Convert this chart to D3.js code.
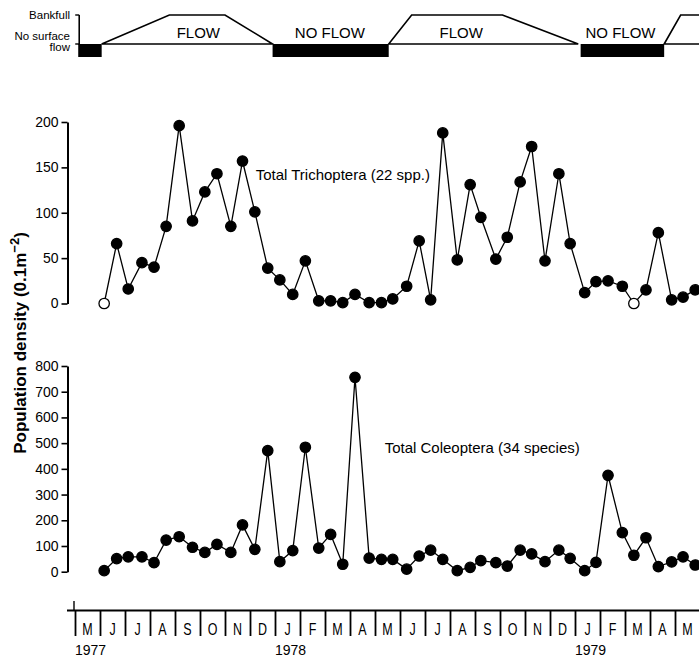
<!DOCTYPE html>
<html>
<head>
<meta charset="utf-8">
<script src="https://cdn.jsdelivr.net/npm/d3@7"></script>
<style>
  body { margin: 0; background: #fff; }
  text { font-family: "Liberation Sans", Arial, Helvetica, sans-serif; fill: #000; }
</style>
</head>
<body>
<script>
// sampling dates, same for both taxa
var sampleDates = [
  "1977-06-06","1977-06-21","1977-07-05","1977-07-22","1977-08-06","1977-08-21",
  "1977-09-06","1977-09-22","1977-10-07","1977-10-22","1977-11-08","1977-11-22",
  "1977-12-07","1977-12-23","1978-01-07","1978-01-23","1978-02-07","1978-02-22",
  "1978-03-08","1978-03-23","1978-04-07","1978-04-24","1978-05-09","1978-05-23",
  "1978-06-09","1978-06-24","1978-07-08","1978-07-23","1978-08-10","1978-08-26",
  "1978-09-08","1978-09-26","1978-10-10","1978-10-26","1978-11-09","1978-11-25",
  "1978-12-12","1978-12-26","1979-01-13","1979-01-27","1979-02-10","1979-02-26",
  "1979-03-12","1979-03-27","1979-04-11","1979-04-27","1979-05-11","1979-05-26"
]

var trichoptera = [
  0, 66, 16, 45, 40, 85, 196, 91, 123, 143, 85, 157,
  101, 39, 26, 10, 47, 3, 3, 1, 10, 1, 1, 5,
  19, 69, 4, 188, 48, 131, 95, 49, 73, 134, 173, 47,
  143, 66, 12, 24, 25, 19, 0, 15, 78, 4, 7, 15
]
// samples drawn as open circles
var trichOpen = [0, 42]

var coleoptera = [
  4, 51, 58, 58, 35, 123, 136, 95, 75, 106, 75, 182,
  87, 471, 39, 82, 484, 92, 145, 29, 756, 53, 48, 48,
  10, 61, 84, 48, 4, 17, 43, 35, 22, 84, 69, 39,
  84, 52, 4, 36, 375, 152, 64, 132, 20, 38, 58, 26
]

var trichTicks = [0, 50, 100, 150, 200]
var coleoTicks = [0, 100, 200, 300, 400, 500, 600, 700, 800]

var monthLabels = ["M","J","J","A","S","O","N","D","J","F","M","A",
                   "M","J","J","A","S","O","N","D","J","F","M","A","M"]
var yearLabels = ["1977", "1978", "1979"]
var yearDates = ["1977-05-01", "1978-01-01", "1979-01-01"]

// flow regime: start, bankfull reached, bankfull ends, flow stops
var flowPeriods = [
  ["1977-06-03", "1977-08-25", "1977-11-01", "1977-12-29"],
  ["1978-05-18", "1978-06-15", "1978-10-04", "1979-01-05"],
  ["1979-04-18", "1979-05-08", "1979-07-01", "1979-07-01"]
]
var noFlowPeriods = [
  ["1977-05-05", "1977-06-03"],
  ["1977-12-29", "1978-05-18"],
  ["1979-01-08", "1979-04-18"]
]
var regimeLabels = ["FLOW", "NO FLOW", "FLOW", "NO FLOW"]
var regimeDates = ["1977-09-29", "1978-03-07", "1978-08-15", "1979-02-24"]

// position in months since 1 May 1977 (every month gets the same width)
function monthPos(s) {
  var p = s.split("-").map(Number)
  var dim = new Date(p[0], p[1], 0).getDate()
  return (p[0] - 1977) * 12 + (p[1] - 5) + (p[2] - 1) / dim
}

var svg = d3.select("body").append("svg")
  .attr("width", 699)
  .attr("height", 658)

var x = d3.scaleLinear().domain([0, 25]).range([75, 700])
var yTop = d3.scaleLinear().domain([0, 200]).range([303.5, 122])
var yBot = d3.scaleLinear().domain([0, 800]).range([571.7, 366])
var yFlow = d3.scaleLinear().domain([0, 1]).range([44, 15])

// ---------- FLOW DIAGRAM ----------
var gFlow = svg.append("g")

var flowAxisX = x(monthPos(noFlowPeriods[0][0])) + 1
gFlow.append("line")
  .attr("x1", flowAxisX).attr("x2", flowAxisX)
  .attr("y1", yFlow(1)).attr("y2", yFlow(0) + 1)
  .attr("stroke", "#000").attr("stroke-width", 1.6)
gFlow.selectAll(".ftick").data([0, 1]).enter().append("line")
  .attr("x1", flowAxisX - 4).attr("x2", flowAxisX)
  .attr("y1", d => yFlow(d)).attr("y2", d => yFlow(d))
  .attr("stroke", "#000").attr("stroke-width", 1.4)

gFlow.append("text").attr("x", 70).attr("y", 19)
  .attr("text-anchor", "end").style("font-size", "11.5px").text("Bankfull")
gFlow.append("text").attr("x", 70).attr("y", 39.5)
  .attr("text-anchor", "end").style("font-size", "11.5px").text("No surface")
gFlow.append("text").attr("x", 70).attr("y", 50.5)
  .attr("text-anchor", "end").style("font-size", "11.5px").text("flow")

gFlow.selectAll("rect").data(noFlowPeriods).enter().append("rect")
  .attr("x", d => x(monthPos(d[0])))
  .attr("width", d => x(monthPos(d[1])) - x(monthPos(d[0])))
  .attr("y", yFlow(0))
  .attr("height", 13)
  .attr("fill", "#000")

gFlow.selectAll(".trap").data(flowPeriods).enter().append("path")
  .attr("d", d => d3.line()([
    [x(monthPos(d[0])), yFlow(0)],
    [x(monthPos(d[1])), yFlow(1)],
    [x(monthPos(d[2])), yFlow(1)],
    [x(monthPos(d[3])), yFlow(0)]
  ]) + "Z")
  .attr("fill", "none")
  .attr("stroke", "#000")
  .attr("stroke-width", 1.6)

gFlow.selectAll(".rlab").data(regimeLabels).enter().append("text")
  .attr("x", (d, i) => x(monthPos(regimeDates[i])))
  .attr("y", 37.5)
  .attr("text-anchor", "middle")
  .style("font-size", "15px")
  .text(d => d)

// ---------- PANELS ----------
function panel(values, yScale, ticks, openIdx) {
  var g = svg.append("g")

  var axis = d3.axisLeft(yScale).tickValues(ticks).tickSize(6).tickSizeOuter(0).tickPadding(3)
  var ga = g.append("g").attr("transform", "translate(67.5,0)").call(axis)
  ga.select(".domain").attr("stroke-width", 2)
  ga.selectAll(".tick line").attr("stroke-width", 1.6)
  ga.selectAll(".tick text").style("font-size", "14px")
    .style("font-family", "'Liberation Sans', Arial, sans-serif")

  var pts = values.map((v, i) => [x(monthPos(sampleDates[i])), yScale(v)])

  g.append("path")
    .attr("d", d3.line()(pts))
    .attr("fill", "none")
    .attr("stroke", "#000")
    .attr("stroke-width", 1.3)

  g.selectAll("circle").data(pts).enter().append("circle")
    .attr("cx", d => d[0])
    .attr("cy", d => d[1])
    .attr("r", 5.2)
    .attr("fill", (d, i) => openIdx.indexOf(i) >= 0 ? "#fff" : "#000")
    .attr("stroke", "#000")
    .attr("stroke-width", 1.3)
  return g
}

panel(trichoptera, yTop, trichTicks, trichOpen)
panel(coleoptera, yBot, coleoTicks, [])

svg.append("text")
  .attr("x", x(monthPos("1977-12-08")))
  .attr("y", yTop(136))
  .style("font-size", "15px")
  .text("Total Trichoptera (22 spp.)")

svg.append("text")
  .attr("x", x(monthPos("1978-05-13")))
  .attr("y", yBot(460))
  .style("font-size", "15px")
  .text("Total Coleoptera (34 species)")

// y label
var ylab = svg.append("text")
  .attr("transform", "translate(26,343) rotate(-90)")
  .attr("text-anchor", "middle")
  .style("font-size", "17px")
  .style("font-weight", "bold")
ylab.append("tspan").text("Population density (0.1m")
ylab.append("tspan").attr("dy", -7).style("font-size", "13px").text("\u22122")
ylab.append("tspan").attr("dy", 7).text(")")

// ---------- MONTH AXIS ----------
var gx = svg.append("g")
gx.append("line")
  .attr("x1", 67).attr("x2", 699)
  .attr("y1", 610.5).attr("y2", 610.5)
  .attr("stroke", "#000").attr("stroke-width", 2)
gx.append("line")
  .attr("x1", x(0) - 1).attr("x2", x(0) - 1)
  .attr("y1", 601).attr("y2", 610)
  .attr("stroke", "#000").attr("stroke-width", 1.4)

var xAxis = d3.axisBottom(x).tickValues(d3.range(monthLabels.length + 1))
  .tickSize(26).tickFormat("")
var gxa = gx.append("g").attr("transform", "translate(0,610)").call(xAxis)
gxa.select(".domain").remove()
gxa.selectAll(".tick line").attr("stroke-width", 1.8)

// condensed month letters
gx.selectAll(".mlab").data(monthLabels).enter().append("text")
  .attr("transform", (d, i) => "translate(" + x(i + 0.5) + ",635) scale(0.78,1)")
  .attr("text-anchor", "middle")
  .style("font-size", "16px")
  .text(d => d)

gx.selectAll(".ylab").data(yearLabels).enter().append("text")
  .attr("x", (d, i) => x(monthPos(yearDates[i])))
  .attr("y", 655)
  .style("font-size", "14px")
  .text(d => d)
</script>
</body>
</html>
